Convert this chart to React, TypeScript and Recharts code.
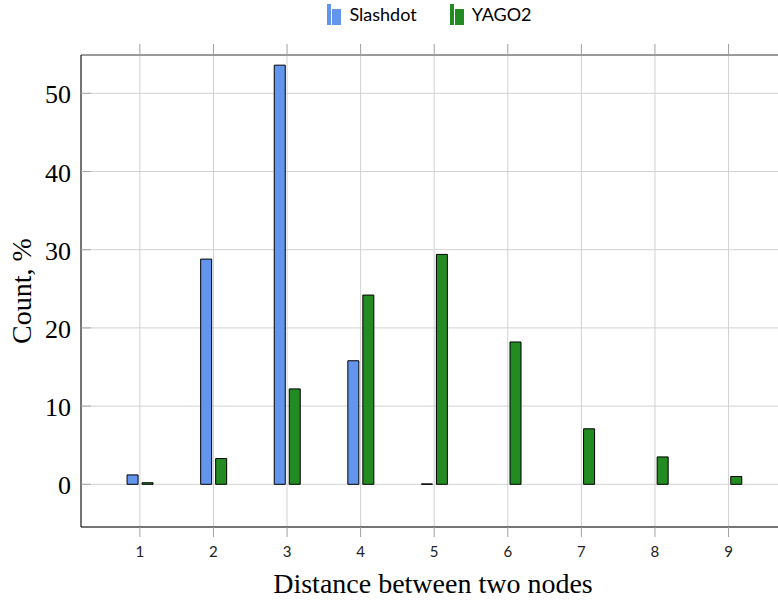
import { BarChart, Bar, XAxis, YAxis, CartesianGrid } from "recharts";

const distances = [1, 2, 3, 4, 5, 6, 7, 8, 9];
const slashdot = [1.2, 28.8, 53.6, 15.8, 0.05, null, null, null, null];
const yago2 = [0.2, 3.3, 12.2, 24.2, 29.4, 18.2, 7.1, 3.5, 1.0];
const yTicks = [0, 10, 20, 30, 40, 50];

const data = distances.map((d, i) => ({ d, slashdot: slashdot[i], yago2: yago2[i] }));

const SERIF = "'Liberation Serif', serif";
const SANS = "Lato, 'Open Sans', sans-serif";
const BLUE = "#6495ED";
const GREEN = "#228B22";
const X_DOMAIN = [0.2, 9.74];

function YTick(props: any) {
  const { x, y, payload } = props;
  return (
    <g>
      <line x1={x + 10} x2={x + 20} y1={y} y2={y} stroke="#a8a8a8" />
      <text x={x} y={y} dy={10} textAnchor="end" fontFamily={SERIF} fontSize={26} fill="#000">
        {payload.value}
      </text>
    </g>
  );
}

function XLabel() {
  return (
    <text x={433} y={593} textAnchor="middle" fontFamily={SERIF} fontSize={28} fill="#000">
      Distance between two nodes
    </text>
  );
}

function YLabel(props: any) {
  const { viewBox } = props;
  const cy = viewBox.y + viewBox.height / 2;
  return (
    <text
      x={31}
      y={cy}
      transform={`rotate(-90, 31, ${cy})`}
      textAnchor="middle"
      fontFamily={SERIF}
      fontSize={28}
      fill="#000"
    >
      Count, %
    </text>
  );
}

function LegendItem({ color, label }: { color: string; label: string }) {
  return (
    <div style={{ display: "flex", alignItems: "flex-end", gap: 7 }}>
      <svg width={15} height={22}>
        <rect x={0} y={1} width={4} height={21} fill={color} />
        <rect x={5} y={6} width={9} height={16} fill={color} />
      </svg>
      <span style={{ fontFamily: SANS, fontSize: 18, lineHeight: "22px", color: "#000" }}>{label}</span>
    </div>
  );
}

export default function App() {
  return (
    <div
      style={{
        position: "absolute",
        left: 0,
        top: 0,
        width: 778,
        height: 601,
        overflow: "hidden",
        background: "#fff",
      }}
    >
      <div
        style={{
          position: "absolute",
          left: 81,
          width: 697,
          top: 3,
          display: "flex",
          justifyContent: "center",
          gap: 33,
        }}
      >
        <LegendItem color={BLUE} label="Slashdot" />
        <LegendItem color={GREEN} label="YAGO2" />
      </div>
      <BarChart
        width={783}
        height={601}
        data={data}
        margin={{ top: 54, right: 0, left: 0, bottom: 0 }}
        barSize={11}
        barGap={4}
      >
        <CartesianGrid stroke="#d2d2d2" />
        <XAxis
          dataKey="d"
          type="number"
          domain={X_DOMAIN}
          ticks={distances}
          allowDataOverflow
          height={74}
          stroke="#000"
          tickSize={10}
          tickMargin={9}
          tickLine={{ stroke: "#a0a0a0" }}
          tick={{ fontFamily: SANS, fontSize: 15, fill: "#222" }}
          label={<XLabel />}
        />
        <XAxis
          xAxisId="top"
          orientation="top"
          dataKey="d"
          type="number"
          domain={X_DOMAIN}
          ticks={distances}
          allowDataOverflow
          height={1}
          tick={() => <g />}
          tickSize={11}
          axisLine={{ stroke: "#808080", strokeWidth: 1.5 }}
          tickLine={{ stroke: "#a0a0a0" }}
        />
        <YAxis
          type="number"
          domain={[-5.46, 54.9]}
          ticks={yTicks}
          allowDataOverflow
          width={81}
          stroke="#000"
          tickSize={0}
          tickMargin={10}
          tick={<YTick />}
          label={<YLabel />}
        />
        <Bar dataKey="slashdot" fill={BLUE} stroke="#000" strokeWidth={1} isAnimationActive={false} />
        <Bar dataKey="yago2" fill={GREEN} stroke="#000" strokeWidth={1} isAnimationActive={false} />
      </BarChart>
    </div>
  );
}
